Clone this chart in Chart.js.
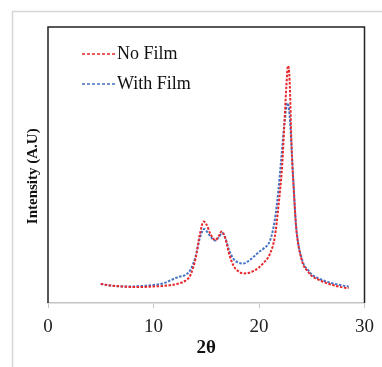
<!DOCTYPE html>
<html>
<head>
<meta charset="utf-8">
<script src="https://cdn.jsdelivr.net/npm/chart.js@4"></script>
<style>
  html, body { margin: 0; padding: 0; background: #fff; }
  #wrap { width: 382px; height: 367px; }
</style>
</head>
<body>
<div id="wrap"><canvas id="myChart"></canvas></div>
<script>
// 2-theta positions and intensities (arbitrary units)
const noFilmX = [5, 6, 7, 8, 9, 10, 11, 12, 12.5, 13, 13.5, 14, 14.4, 14.75, 15, 15.4, 15.85, 16.2, 16.45, 16.8,
    17.2, 17.6, 18, 18.5, 19, 19.5, 20, 20.4, 21.06, 21.5, 21.84, 22, 22.2, 22.4, 22.6, 22.75, 22.9, 23.1, 23.3, 23.5,
    23.7, 24, 24.2, 24.6, 25, 25.5, 26, 27, 28, 28.5];
const noFilm = [6.9, 6.3, 6.0, 5.8, 5.8, 6.0, 6.2, 6.7, 7.2, 8.0, 10.1, 16.3, 25.0, 29.5, 28.6, 25.0, 22.8, 24.3, 25.9, 23.6,
    17.4, 13.4, 11.6, 10.7, 10.9, 11.6, 12.9, 14.4, 18.0, 24.0, 34.9, 40.9, 50.0, 64.5, 79.0, 85.9, 80.8, 55.4, 40.9, 28.3,
    21.7, 16.3, 13.8, 11.6, 9.8, 8.7, 7.8, 6.5, 5.6, 5.4];

const withFilmX = [5, 6, 7, 8, 9, 10, 11, 11.5, 12, 12.5, 13, 13.5, 14, 14.4, 14.8, 15.1, 15.5, 15.85, 16.2, 16.5,
    16.8, 17.2, 17.6, 18, 18.5, 19, 19.5, 20, 20.4, 21.06, 21.5, 21.84, 22.1, 22.4, 22.7, 22.9, 23.1, 23.3, 23.5, 23.7,
    24, 24.3, 24.6, 25, 25.5, 26, 27, 28, 28.5];
const withFilm = [6.9, 6.3, 6.0, 6.0, 6.2, 6.5, 7.2, 8.0, 8.9, 9.6, 10.1, 12.0, 17.0, 23.6, 26.8, 25.7, 23.6, 22.6, 23.9, 25.4,
    23.6, 18.8, 15.9, 14.7, 14.3, 15.2, 16.8, 18.5, 19.6, 22.8, 30.1, 40.9, 51.8, 64.5, 72.5, 68.1, 55.4, 40.9, 28.6, 22.1,
    16.8, 13.6, 12.2, 10.3, 9.2, 8.3, 7.1, 6.3, 6.0];

const seriesLabels = ['No Film', 'With Film'];
const xTicks = [0, 10, 20, 30];

const serif = "'Liberation Serif', 'Times New Roman', serif";
const toPoints = (xs, ys) => xs.map((x, i) => ({ x: x, y: ys[i] }));

// frame, plot box and in-plot legend
const decor = {
    id: 'decor',
    beforeDraw(chart) {
        const c = chart.ctx;
        c.save();
        c.fillStyle = '#fff';
        c.fillRect(0, 0, chart.width, chart.height);
        c.strokeStyle = '#d6d6d6';
        c.lineWidth = 1.5;
        c.strokeRect(12.5, 11.5, 400, 400);
        c.restore();
    },
    afterDraw(chart) {
        const c = chart.ctx;
        const a = chart.chartArea;
        c.save();
        c.strokeStyle = '#222';
        c.lineWidth = 1.5;
        c.beginPath();
        c.moveTo(a.left, a.bottom);
        c.lineTo(a.left, a.top);
        c.lineTo(a.right, a.top);
        c.lineTo(a.right, a.bottom);
        c.stroke();

        c.font = '18px ' + serif;
        c.textBaseline = 'middle';
        chart.data.datasets.forEach((ds, i) => {
            const y = 54 + i * 30;
            c.strokeStyle = ds.borderColor;
            c.lineWidth = 1.6;
            c.setLineDash([3, 2]);
            c.beginPath();
            c.moveTo(82, y);
            c.lineTo(115, y);
            c.stroke();
            c.setLineDash([]);
            c.fillStyle = '#111';
            c.fillText(ds.label, 117, y);
        });
        c.restore();
    }
};

const ctx = document.getElementById('myChart').getContext('2d');

new Chart(ctx, {
    type: 'line',
    data: {
        datasets: [{
            label: seriesLabels[0],
            data: toPoints(noFilmX, noFilm),
            borderColor: '#e8272a',
            borderWidth: 2,
            borderDash: [2.5, 1.5],
            pointRadius: 0,
            cubicInterpolationMode: 'monotone'
        }, {
            label: seriesLabels[1],
            data: toPoints(withFilmX, withFilm),
            borderColor: '#4472c4',
            borderWidth: 2,
            borderDash: [2.5, 1.5],
            pointRadius: 0,
            cubicInterpolationMode: 'monotone'
        }]
    },
    options: {
        responsive: true,
        maintainAspectRatio: false,
        animation: false,
        layout: {
            padding: { top: 27, right: 13, left: 0, bottom: 0 }
        },
        scales: {
            x: {
                type: 'linear',
                min: 0,
                max: 30,
                afterBuildTicks: s => { s.ticks = xTicks.map(v => ({ value: v })); },
                afterFit: s => { s.height = 64; },
                ticks: {
                    color: '#222',
                    padding: 8,
                    font: { family: serif, size: 19 }
                },
                grid: {
                    drawOnChartArea: false,
                    tickLength: 5,
                    color: '#c4c4c4'
                },
                border: { color: '#c4c4c4', width: 1.5 },
                title: {
                    display: true,
                    text: '2θ',
                    color: '#111',
                    font: { family: serif, size: 19, weight: 'bold' },
                    padding: { top: 0, bottom: 8 }
                }
            },
            y: {
                min: 0,
                max: 100,
                afterFit: s => { s.width = 48; },
                ticks: { display: false },
                grid: { display: false },
                border: { display: false },
                title: {
                    display: true,
                    text: 'Intensity (A.U)      ',
                    color: '#111',
                    font: { family: serif, size: 15, weight: 'bold' },
                    padding: { top: 24, bottom: 0 }
                }
            }
        },
        plugins: {
            legend: { display: false },
            tooltip: { enabled: false }
        }
    },
    plugins: [decor]
});
</script>
</body>
</html>
